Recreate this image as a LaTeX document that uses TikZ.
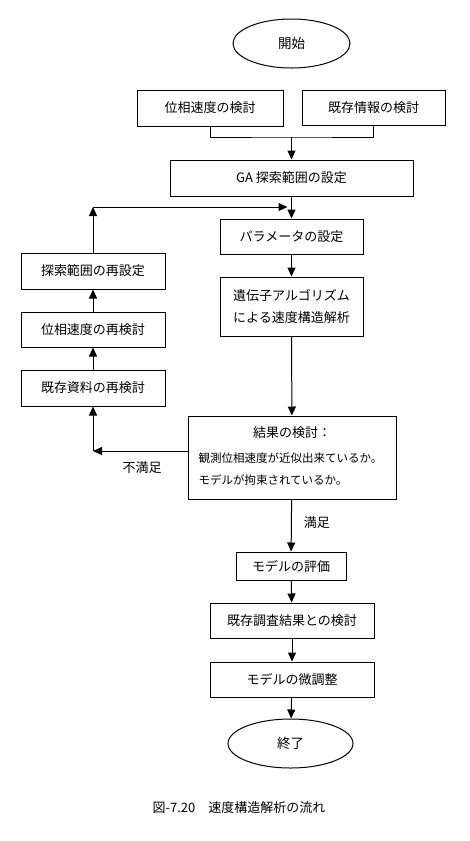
\documentclass[tikz,border=0pt]{standalone}
\usepackage{fontspec}
\setmainfont{Noto Sans CJK JP}
\usetikzlibrary{arrows.meta,shapes.geometric}

\begin{document}
\begin{tikzpicture}[x=1pt,y=-1pt,
    line width=1pt,
    box/.style={draw, rectangle, inner sep=0pt, font=\fontsize{13}{16}\selectfont},
    oval/.style={draw, ellipse, inner sep=0pt, font=\fontsize{13.5}{16}\selectfont},
    arr/.style={-{Triangle[width=8pt,length=9pt]}},
    lbl/.style={font=\fontsize{13}{16}\selectfont}]
    \useasboundingbox (0,0) rectangle (470,841);

    % main column
    \node[oval, minimum width=117pt, minimum height=49pt] (start) at (291.5,43.5) {開始};
    \node[box, minimum width=146pt, minimum height=36pt] (phase) at (210,108) {位相速度の検討};
    \node[box, minimum width=143pt, minimum height=35pt] (exist) at (373.5,107.5) {既存情報の検討};
    \node[box, minimum width=243pt, minimum height=36pt] (ga) at (291.5,178) {GA 探索範囲の設定};
    \node[box, minimum width=143pt, minimum height=35pt] (param) at (291.5,236.5) {パラメータの設定};
    \node[box, minimum width=143pt, minimum height=59pt, align=center] (gen) at (291.5,306.5)
        {遺伝子アルゴリズム\\[6pt]による速度構造解析};
    \node[box, minimum width=208pt, minimum height=83pt] (check) at (292,457.5) {};
    \node[lbl] (checkt) at (292,433) {結果の検討：};
    \node[anchor=west, inner sep=0pt, font=\fontsize{11.5}{14}\selectfont] (checka) at (198,458) {観測位相速度が近似出来ているか。};
    \node[anchor=west, inner sep=0pt, font=\fontsize{11.5}{14}\selectfont] (checkb) at (198,480) {モデルが拘束されているか。};
    \node[box, minimum width=110pt, minimum height=28pt] (eval) at (291,566) {モデルの評価};
    \node[box, minimum width=164pt, minimum height=35pt] (survey) at (292,620.5) {既存調査結果との検討};
    \node[box, minimum width=164pt, minimum height=35pt] (tune) at (292,679.5) {モデルの微調整};
    \node[oval, minimum width=125pt, minimum height=49pt] (end) at (290.5,743.5) {終了};

    % feedback column
    \node[box, minimum width=144pt, minimum height=36pt] (range) at (93,271) {探索範囲の再設定};
    \node[box, minimum width=144pt, minimum height=35pt] (rephase) at (93,329.5) {位相速度の再検討};
    \node[box, minimum width=144pt, minimum height=36pt] (redata) at (93,388) {既存資料の再検討};

    \coordinate (join) at (291.5,137);
    \coordinate (merge) at (291.5,207);
    \coordinate (back) at (93,207);
    \coordinate (fail) at (93,451);

    \draw (phase.south) |- (join) -| (exist.south);
    \draw[arr] (join) -- (ga);
    \foreach \a/\b in {ga/param, param/gen, gen/check, check/eval, eval/survey, survey/tune, tune/end}
        \draw[arr] (\a) -- (\b);

    % loop back
    \draw[arr] (check.west |- fail) -- (fail);
    \foreach \a/\b in {fail/redata, redata/rephase, rephase/range, range/back}
        \draw[arr] (\a) -- (\b);
    \draw[arr] (back) -- ([xshift=-4pt]merge);

    \node[lbl] (ng) at (142,468) {不満足};
    \node[lbl, anchor=west] (ok) at (300,523) {満足};

    \node[lbl] (caption) at (239,808) {図-7.20　速度構造解析の流れ};
\end{tikzpicture}
\end{document}
